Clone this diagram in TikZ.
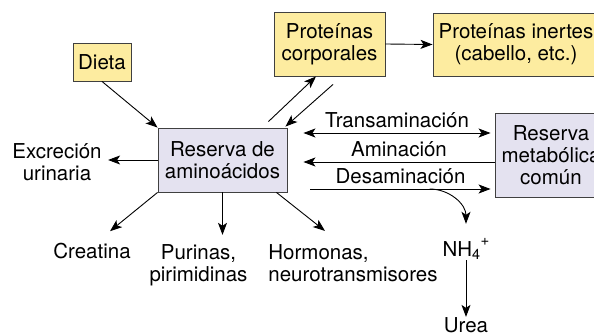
\documentclass[tikz,border=0pt]{standalone}
\usepackage{fontspec}
\setmainfont{TeX Gyre Heros}
\usetikzlibrary{arrows.meta}
\definecolor{protyellow}{RGB}{253,236,160}
\definecolor{poolblue}{RGB}{228,226,240}
\tikzset{
	box/.style={draw=black!75, line width=0.9pt, align=center, inner sep=0pt},
	ybox/.style={box, fill=protyellow},
	pbox/.style={box, fill=poolblue},
	txt/.style={align=center, inner sep=0pt},
	lbl/.style={above, inner sep=0pt, yshift=5pt}
}

\begin{document}
\begin{tikzpicture}[x=1pt, y=-1pt, line width=0.9pt, >={Stealth[length=12pt,width=9pt,inset=3pt]},
	font=\fontsize{20.5}{22}\selectfont]
	\clip (0,0) rectangle (594,336);
	% boxes
	\node[ybox, minimum width=58pt, minimum height=38pt] (dieta) at (102,62) {Dieta};
	\node[ybox, minimum width=111pt, minimum height=64pt] (pc) at (329.5,44) {Proteínas\\corporales};
	\node[ybox, minimum width=166pt, minimum height=63pt] (pi) at (516,44.5) {Proteínas inertes\\(cabello, etc.)};
	\node[pbox, minimum width=129pt, minimum height=64pt] (res) at (222.5,160) {Reserva de\\aminoácidos};
	\node[pbox, minimum width=112pt, minimum height=84pt] (met) at (551,155) {Reserva\\metabólica\\común};
	% products
	\node[txt] (exc) at (57,162.5) {Excreción\\urinaria};
	\node[txt] (creat) at (92,251.5) {Creatina};
	\node[txt] (pur) at (198.5,265) {Purinas,\\pirimidinas};
	\node[txt, align=left] (horm) at (353,263) {Hormonas,\\neurotransmisores};
	\node[txt] (nh4) at (466,249) {NH\textsubscript{4}\raisebox{0.55em}{\fontsize{15}{15}\selectfont +}};
	\node[txt] (urea) at (466,325) {Urea};
	\path[->]
	(dieta.south) edge (res.north west)
	([xshift=-19pt,yshift=6pt]res.north east) edge ([xshift=-13.5pt]pc.south)
	([xshift=3.5pt,yshift=-8pt]pc.south) edge ([xshift=-2pt,yshift=1pt]res.north east)
	(pc.east) edge (pi.west)
	(res.west) edge ([xshift=6pt]res.west -| exc.east)
	(res.south west) edge ([shift={(18pt,12pt)}]creat.north)
	(res.south) edge ([yshift=9pt]res.south |- pur.north)
	([xshift=-11pt]res.south east) edge ([shift={(-28pt,13pt)}]horm.north)
	(nh4) edge (urea)
	([xshift=16pt,yshift=27pt]res.east) edge[<->] node[lbl]{Transaminación} ([xshift=-4pt,yshift=22pt]met.west)
	([yshift=-7pt]met.west) edge node[lbl]{Aminación} ([xshift=16pt,yshift=-2pt]res.east)
	([xshift=23pt,yshift=-29pt]res.east) edge node[lbl]{Desaminación} ([xshift=-4pt,yshift=-34pt]met.west)
	([xshift=-65pt,yshift=-34pt]met.west) edge[out=0, in=90] ([yshift=14pt]nh4.north);
\end{tikzpicture}
\end{document}
